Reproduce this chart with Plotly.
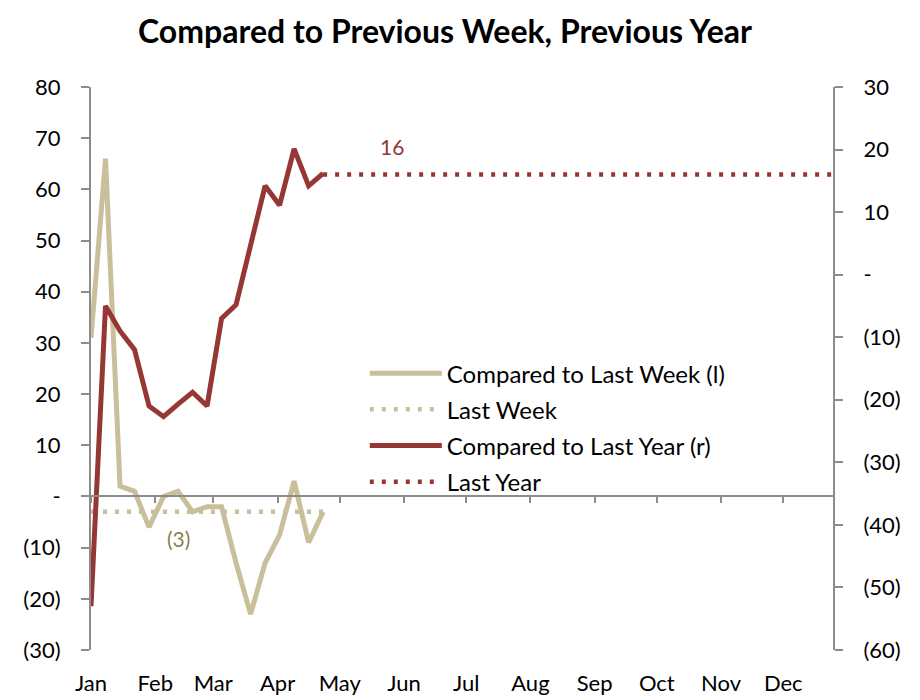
import plotly.graph_objects as go

# ---- data ----
weeks = ["2015-01-01", "2015-01-08", "2015-01-15", "2015-01-22", "2015-01-29",
         "2015-02-05", "2015-02-12", "2015-02-19", "2015-02-26", "2015-03-05",
         "2015-03-12", "2015-03-19", "2015-03-26", "2015-04-02", "2015-04-09",
         "2015-04-16", "2015-04-23"]
vs_last_week = [31, 66, 2, 1, -6, 0, 1, -3, -2, -2, -13, -23, -13, -7.5, 3, -9, -3]
vs_last_year = [-53, -5, -9, -12, -21, -22.7, -20.7, -18.8, -21, -7, -4.8, 4.7, 14.2, 11.1, 20.1, 14.2, 16.2]
last_week_value = -3
last_year_value = 16
year_end = "2015-12-25"

month_starts = ["2015-01-01", "2015-02-01", "2015-03-01", "2015-04-01", "2015-05-01",
                "2015-06-01", "2015-07-01", "2015-08-01", "2015-09-01", "2015-10-01",
                "2015-11-01", "2015-12-01"]
month_labels = ["Jan", "Feb", "Mar", "Apr", "May", "Jun", "Jul", "Aug", "Sep", "Oct", "Nov", "Dec"]

left_ticks = [-30, -20, -10, 0, 10, 20, 30, 40, 50, 60, 70, 80]
right_ticks = [-60, -50, -40, -30, -20, -10, 0, 10, 20, 30]


def fmt(v):
    if v == 0:
        return "-"
    return f"({abs(v)})" if v < 0 else str(v)


TAN = "#C9BF9B"
RED = "#953735"
OLIVE = "#8C8150"
AXIS = "#8C8C8C"
FONT = "Lato"

fig = go.Figure()
fig.add_trace(go.Scatter(x=weeks, y=vs_last_week, mode="lines",
                         name="Compared to Last Week (l)", legendgroup="a",
                         line=dict(color=TAN, width=5), yaxis="y"))
fig.add_trace(go.Scatter(x=[weeks[0], weeks[-1]], y=[last_week_value, last_week_value],
                         mode="lines", name="Last Week", legendgroup="b",
                         line=dict(color=TAN, width=4.5, dash="4px,8px"), yaxis="y"))
fig.add_trace(go.Scatter(x=weeks, y=vs_last_year, mode="lines",
                         name="Compared to Last Year (r)", legendgroup="c",
                         line=dict(color=RED, width=5), yaxis="y2"))
fig.add_trace(go.Scatter(x=[weeks[-1], year_end], y=[last_year_value, last_year_value],
                         mode="lines", name="Last Year", legendgroup="d",
                         line=dict(color=RED, width=4.5, dash="4px,8px"), yaxis="y2"))
# helper invisible trace on the zero-line x axis
fig.add_trace(go.Scatter(x=[weeks[0]], y=[0], mode="markers", marker=dict(opacity=0),
                         showlegend=False, hoverinfo="skip", xaxis="x2", yaxis="y"))

fig.add_annotation(x=weeks[6], y=last_week_value, yref="y", text=fmt(last_week_value),
                   showarrow=False, yshift=-27, font=dict(family=FONT, size=21, color=OLIVE))
fig.add_annotation(x="2015-05-26", y=last_year_value, yref="y2", text=str(last_year_value),
                   showarrow=False, yshift=28, font=dict(family=FONT, size=21, color=RED))

xr = [weeks[0], year_end]
fig.update_layout(
    width=920, height=700,
    margin=dict(l=83, r=95, t=79, b=56),
    paper_bgcolor="white", plot_bgcolor="white",
    font=dict(family=FONT, size=22, color="black"),
    title=dict(text="<b>Compared to Previous Week, Previous Year</b>", x=0.475, xanchor="center",
               y=1, yanchor="top", pad=dict(t=13),
               font=dict(family=FONT, size=32, color="black")),
    showlegend=True,
    legend=dict(x=0.369, y=0.531, xanchor="left", yanchor="top", bgcolor="rgba(0,0,0,0)",
                font=dict(family=FONT, size=24), tracegroupgap=2, itemwidth=72),
    xaxis=dict(range=xr, type="date", tickvals=month_starts, ticktext=month_labels,
               showgrid=False, showline=False, ticks="", zeroline=False,
               tickfont=dict(family=FONT, size=22), ticklabelstandoff=18),
    xaxis2=dict(range=xr, type="date", overlaying="x", anchor="free", position=30 / 110,
                tickvals=month_starts, showticklabels=False, showgrid=False,
                showline=True, linecolor=AXIS, linewidth=2,
                ticks="outside", ticklen=6, tickcolor=AXIS, tickwidth=2),
    yaxis=dict(range=[-30, 80], tickvals=left_ticks, ticktext=[fmt(v) for v in left_ticks],
               showgrid=False, zeroline=False, showline=True, linecolor=AXIS, linewidth=2,
               ticks="outside", ticklen=8, tickcolor=AXIS, tickwidth=2,
               ticklabelstandoff=16, tickfont=dict(family=FONT, size=22)),
    yaxis2=dict(range=[-60, 30], tickvals=right_ticks, ticktext=[fmt(v) for v in right_ticks],
                overlaying="y", side="right", showgrid=False, zeroline=False,
                showline=True, linecolor=AXIS, linewidth=2,
                ticks="outside", ticklen=8, tickcolor=AXIS, tickwidth=2,
                ticklabelstandoff=16, tickfont=dict(family=FONT, size=22)),
)

fig.write_html("out.html")
